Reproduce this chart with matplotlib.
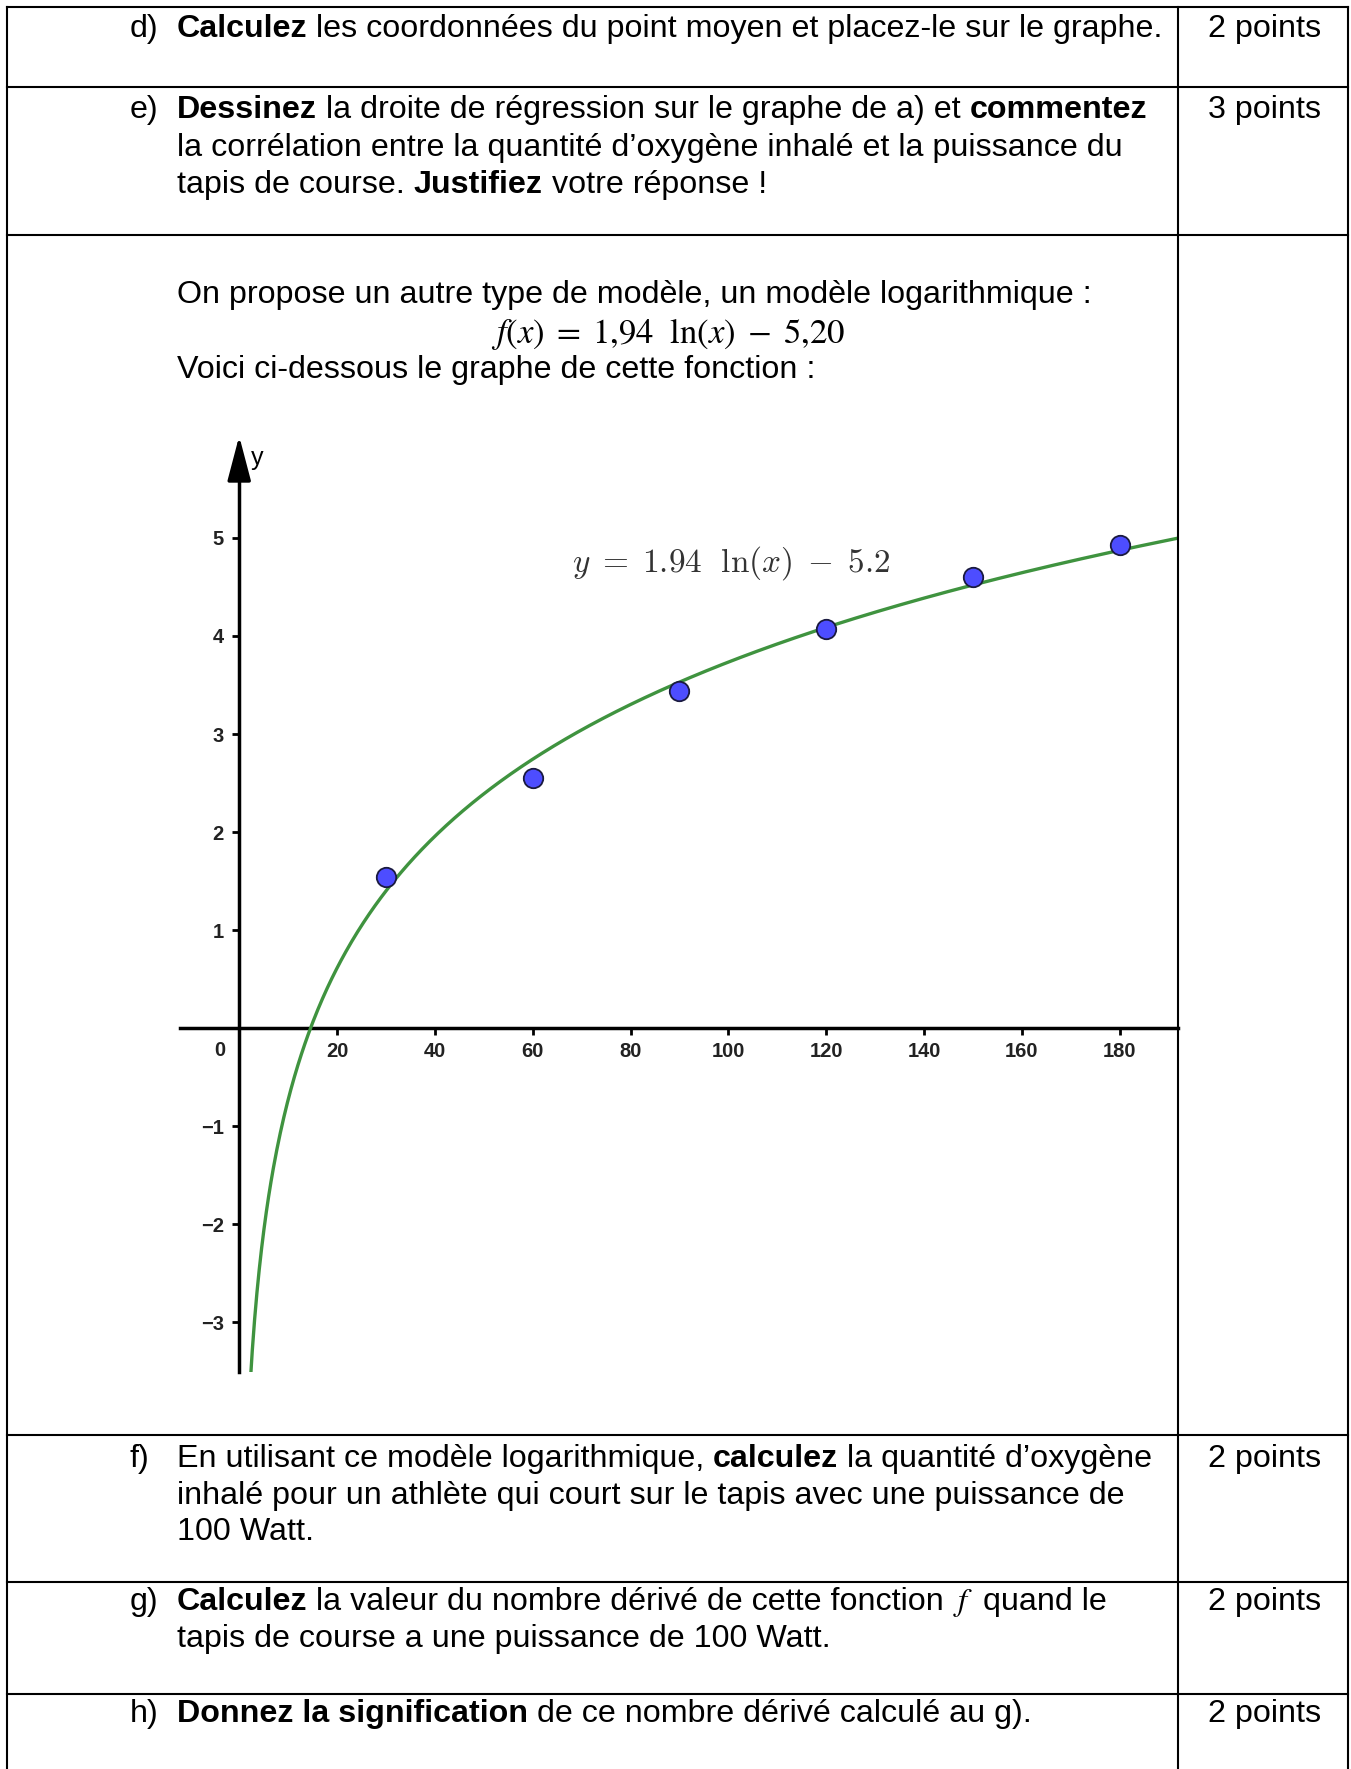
import numpy as np
import matplotlib
matplotlib.use('Agg')
import matplotlib.pyplot as plt
from matplotlib.transforms import Affine2D
from matplotlib.lines import Line2D

W, H = 1351, 1769

# measured points (puissance en W, oxygene inhale)
puissance = [30, 60, 90, 120, 150, 180]
oxygene = [1.54, 2.55, 3.44, 4.07, 4.60, 4.93]
# log model y = a ln(x) + b
coef_a = 1.94
coef_b = -5.20

x_ticks = [20, 40, 60, 80, 100, 120, 140, 160, 180]
x_labels = ['20', '40', '60', '80', '100', '120', '140', '160', '180']
y_ticks = [-3, -2, -1, 1, 2, 3, 4, 5]
y_labels = ['\u22123', '\u22122', '\u22121', '1', '2', '3', '4', '5']

B, N, M = 'bold', 'normal', 'math'
text_d = [[('Calculez', B), ('les coordonnées du point moyen et placez-le sur le graphe.', N)]]
text_e = [[('Dessinez', B), ('la droite de régression sur le graphe de a) et', N), ('commentez', B)],
          [('la corrélation entre la quantité d\u2019oxygène inhalé et la puissance du', N)],
          [('tapis de course.', N), ('Justifiez', B), ('votre réponse !', N)]]
text_intro = [[('On propose un autre type de modèle, un modèle logarithmique :', N)]]
text_voici = [[('Voici ci-dessous le graphe de cette fonction :', N)]]
formula = r'$f(x)\;=\;1{,}94\ \ \ln(x)\;-\;5{,}20$'
text_f = [[('En utilisant ce modèle logarithmique,', N), ('calculez', B), ('la quantité d\u2019oxygène', N)],
          [('inhalé pour un athlète qui court sur le tapis avec une puissance de', N)],
          [('100 Watt.', N)]]
text_g = [[('Calculez', B), ('la valeur du nombre dérivé de cette fonction', N), (r'$f$', M), ('quand le', N)],
          [('tapis de course a une puissance de 100 Watt.', N)]]
text_h = [[('Donnez la signification', B), ('de ce nombre dérivé calculé au g).', N)]]

plt.rcParams['font.family'] = ['Liberation Sans', 'DejaVu Sans']

fig = plt.figure(figsize=(W / 100, H / 100), dpi=100)
px = Affine2D().scale(1, -1).translate(0, H)   # pixel coords, origin top-left
renderer = fig.canvas.get_renderer()

FS = 23.2
SPACE = 0.278 * FS * 100 / 72


def put_line(x, y, pieces):
    for s, w in pieces:
        if w == M:
            t = fig.text(x, y, s, transform=px, fontsize=FS, va='baseline',
                         math_fontfamily='stix')
        else:
            t = fig.text(x, y, s, transform=px, fontsize=FS, fontweight=w, va='baseline')
        x += t.get_window_extent(renderer).width + SPACE


def put_block(label, lines, y0, step=37.2, pts=None):
    if label:
        fig.text(130, y0, label, transform=px, fontsize=FS, va='baseline')
    for i, pieces in enumerate(lines):
        put_line(177, y0 + i * step, pieces)
    if pts:
        fig.text(1208, y0, pts, transform=px, fontsize=FS, va='baseline')


put_block('d)', text_d, 36.7, pts='2 points')
put_block('e)', text_e, 118.3, pts='3 points')
put_block(None, text_intro, 303.3)
fig.text(668, 343, formula, transform=px, fontsize=25, ha='center', va='baseline',
         math_fontfamily='stix')
put_block(None, text_voici, 378.3)
put_block('f)', text_f, 1467, step=36.7, pts='2 points')
put_block('g)', text_g, 1610, step=36.7, pts='2 points')
put_block('h)', text_h, 1722, pts='2 points')

# table grid
lw_tab = 1.5
for yy in [6.7, 87.3, 235.3, 1435, 1582, 1694]:
    fig.add_artist(Line2D([6.7, 1348], [yy, yy], transform=px, color='black', lw=lw_tab))
for xx in [6.7, 1178, 1348]:
    fig.add_artist(Line2D([xx, xx], [6.7, H], transform=px, color='black', lw=lw_tab))

# graph
ax = fig.add_axes([180 / W, 1 - 1372 / H, (1178 - 180) / W, (1372 - 425) / H])
ax.set_xlim(-12.1, 191.9)
ax.set_ylim(-3.51, 6.153)
ax.patch.set_alpha(0)
for s in ['top', 'right']:
    ax.spines[s].set_visible(False)
ax.spines['left'].set_position(('data', 0))
ax.spines['bottom'].set_position(('data', 0))
ax.spines['left'].set_bounds(-3.51, 5.7)
for s in ['left', 'bottom']:
    ax.spines[s].set_linewidth(2.5)
ax.annotate('', xy=(0, 6.04), xytext=(0, 5.62),
            arrowprops=dict(arrowstyle='-|>,head_length=1.37,head_width=0.36',
                            mutation_scale=20, color='black', lw=2.5, shrinkA=0, shrinkB=0),
            annotation_clip=False)

ax.set_xticks(x_ticks)
ax.set_xticklabels(x_labels, fontweight='bold', fontsize=14.5, color='#222222')
ax.set_yticks(y_ticks)
ax.set_yticklabels(y_labels, fontweight='bold', fontsize=14.5, color='#222222')
ax.tick_params(axis='x', direction='out', length=5, width=2, pad=5)
ax.tick_params(axis='y', direction='out', length=5, width=2, pad=6)

xs = np.linspace(1, 192, 800)
ax.plot(xs, coef_a * np.log(xs) + coef_b, color='#3f933f', lw=2.4, zorder=3)
ax.scatter(puissance, oxygene, s=14 ** 2, c='#4d4dff', edgecolors='#1a1a40',
           linewidths=1.3, zorder=5)

fig.text(572, 572, r'$y\;=\;1.94\ \ \ln(x)\;-\;5.2$', transform=px, fontsize=24,
         va='baseline', color='#333333', math_fontfamily='cm')
fig.text(251, 465, 'y', transform=px, fontsize=18, va='baseline')
fig.text(220, 1050, '0', transform=px, fontsize=14.5, fontweight='bold', color='#222222',
         ha='center', va='center')

fig.savefig('out.png', dpi=100)
